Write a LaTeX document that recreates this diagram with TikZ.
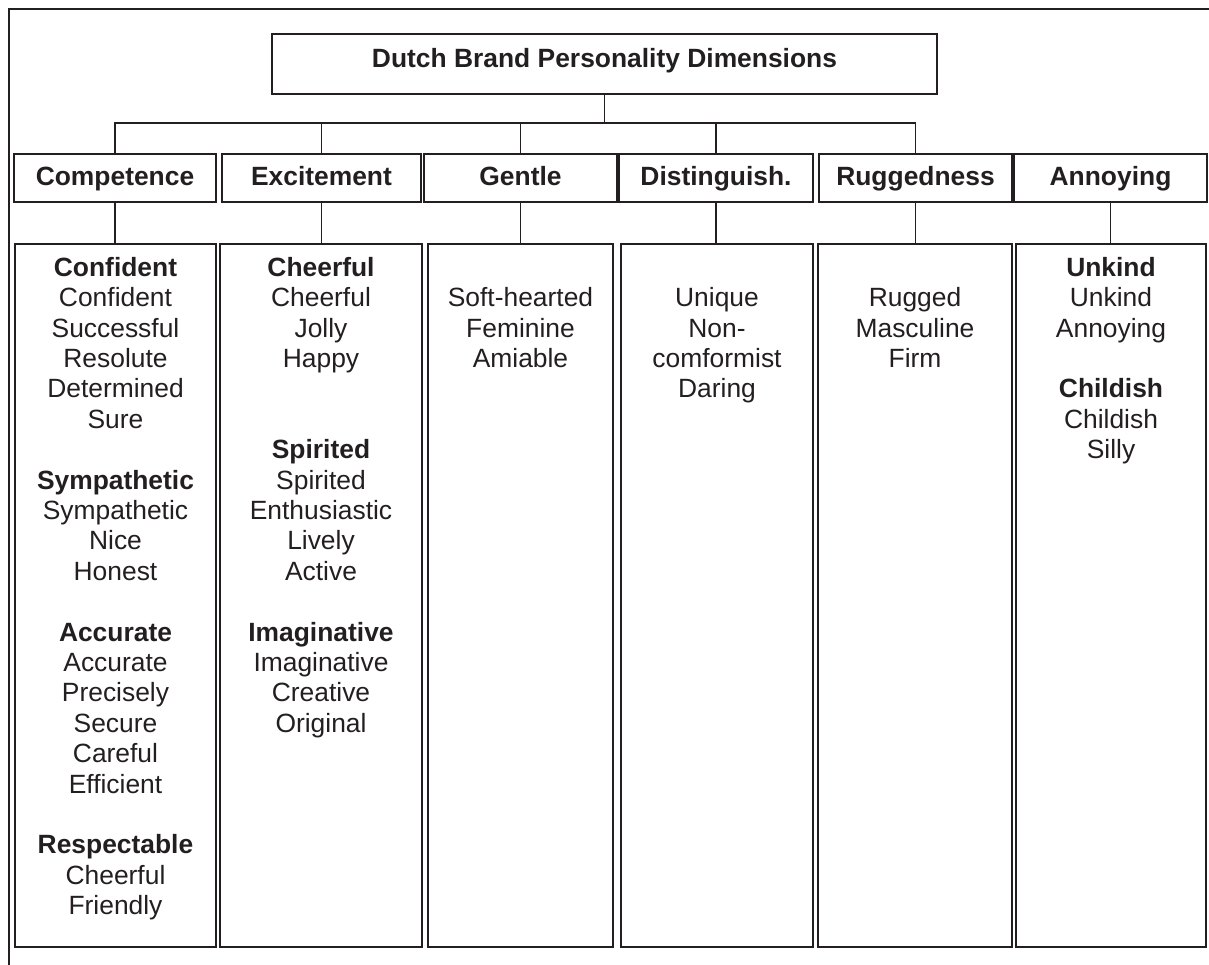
\documentclass[tikz,border=0pt]{standalone}
\usepackage{fontspec}
\setmainfont{Liberation Sans}
\definecolor{ink}{HTML}{231F20}
\begin{document}
\begin{tikzpicture}[x=1pt,y=-1pt,
  every node/.style={inner sep=0pt, text=ink},
  box/.style={draw=ink, line width=1.8pt, rectangle},
  catbox/.style={box, minimum height=48pt,
    font=\fontsize{26.4}{30.4}\selectfont\bfseries,
    text height=19pt, text depth=3pt},
  listbox/.style={box, minimum height=703pt},
  listtext/.style={font=\fontsize{26.4}{30.4}\selectfont, align=center, anchor=north},
  link/.style={draw=ink, line width=1.5pt},
  frame/.style={draw=ink, line width=1.8pt},
]
\useasboundingbox (0,0) rectangle (1209,965);

% partial outer frame
\draw[frame] (1209,9) -- (9,9) -- (9,965);

% title
\node[box, minimum width=665pt, minimum height=60pt,
      font=\fontsize{26.4}{30.4}\selectfont\bfseries,
      text height=19pt, text depth=12pt] (title) at (604.5,64)
      {Dutch Brand Personality Dimensions};

% dimension headers
\node[catbox, minimum width=202pt] (comp) at (115,178)   {Competence};
\node[catbox, minimum width=199pt] (exc)  at (321.5,178) {Excitement};
\node[catbox, minimum width=193pt] (gent) at (520.5,178) {Gentle};
\node[catbox, minimum width=194pt] (dist) at (716,178)   {Distinguish.};
\node[catbox, minimum width=193pt] (rug)  at (915.5,178) {Ruggedness};
\node[catbox, minimum width=193pt] (ann)  at (1110.5,178){Annoying};

% trait columns
\node[listbox, minimum width=201pt] (comp-list) at (115.5,595.5) {};
\node[listbox, minimum width=202pt] (exc-list)  at (321,595.5)   {};
\node[listbox, minimum width=185pt] (gent-list) at (520.5,595.5) {};
\node[listbox, minimum width=192pt] (dist-list) at (717,595.5)   {};
\node[listbox, minimum width=194pt] (rug-list)  at (915,595.5)   {};
\node[listbox, minimum width=190pt] (ann-list)  at (1111,595.5)  {};

% trait texts
\node[listtext] (comp-text) at (115.5,254) {\rule{0pt}{22pt}\textbf{Confident}\\Confident\\Successful\\Resolute\\Determined\\Sure\\[30.4pt]\textbf{Sympathetic}\\Sympathetic\\Nice\\Honest\\[30.4pt]\textbf{Accurate}\\Accurate\\Precisely\\Secure\\Careful\\Efficient\\[30.4pt]\textbf{Respectable}\\Cheerful\\Friendly};
\node[listtext] (exc-text) at (321,254) {\rule{0pt}{22pt}\textbf{Cheerful}\\Cheerful\\Jolly\\Happy\\[60.8pt]\textbf{Spirited}\\Spirited\\Enthusiastic\\Lively\\Active\\[30.4pt]\textbf{Imaginative}\\Imaginative\\Creative\\Original};
\node[listtext] (gent-text) at (520.5,254) {\rule{0pt}{22pt}\\Soft-hearted\\Feminine\\Amiable};
\node[listtext] (dist-text) at (717,254) {\rule{0pt}{22pt}\\Unique\\Non-\\comformist\\Daring};
\node[listtext] (rug-text) at (915,254) {\rule{0pt}{22pt}\\Rugged\\Masculine\\Firm};
\node[listtext] (ann-text) at (1111,254) {\rule{0pt}{22pt}\textbf{Unkind}\\Unkind\\Annoying\\[30.4pt]\textbf{Childish}\\Childish\\Silly};

% connectors
\coordinate (bus) at (0,123);
\draw[link] (title.south) -- (title.south |- bus);
\draw[link] (comp.north) -- (comp.north |- bus) -- (rug.north |- bus) -- (rug.north);
\foreach \n in {exc,gent,dist}
  \draw[link] (\n.north) -- (\n.north |- bus);
\foreach \n in {comp,exc,gent,dist,rug,ann}
  \draw[link] (\n.south) -- (\n.south |- \n-list.north);
\end{tikzpicture}
\end{document}
